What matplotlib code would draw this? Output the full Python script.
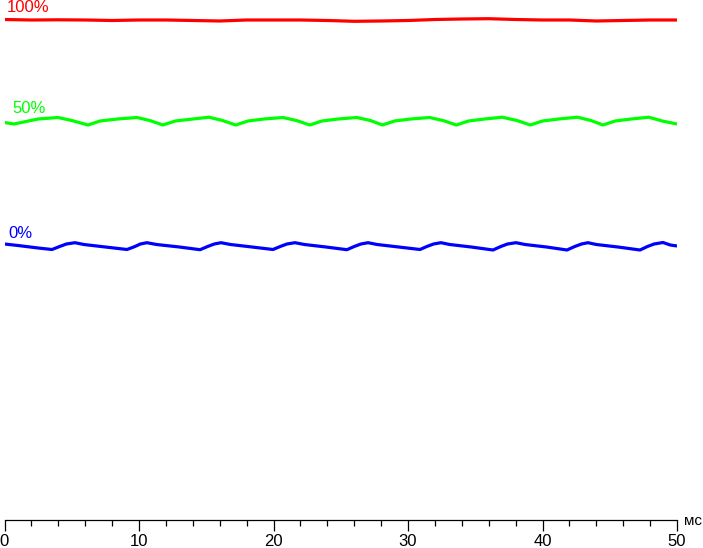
import matplotlib
matplotlib.use("Agg")
import matplotlib.pyplot as plt
from matplotlib.ticker import MultipleLocator

plt.rcParams['font.family'] = ['Liberation Sans', 'DejaVu Sans']

# levels are given as height above the time axis (arbitrary units)
red_t = [0, 2, 4, 6, 8, 10, 12, 14, 16, 18, 20, 22, 24, 26, 28, 30,
         32, 34, 36, 38, 40, 42, 44, 46, 48, 50]
red_v = [500.5, 500, 500.2, 500, 499.5, 500, 500, 499.5, 499, 500, 500, 500, 499.5,
         498.7, 499, 499.5, 500.5, 501, 501.3, 500.5, 500, 500, 499, 499.5, 500, 500]

green_t = [0.0, 0.7, 1.6, 2.5, 3.98, 5.0, 6.21, 7.1, 8.4, 9.85, 10.8, 11.78,
           12.7, 14.0, 15.2, 16.2, 17.2, 18.1, 19.3, 20.7, 21.7, 22.7, 23.6,
           24.8, 26.2, 27.2, 28.1, 29.0, 30.2, 31.6, 32.6, 33.6, 34.5, 35.7,
           37.0, 38.1, 39.1, 40.0, 41.2, 42.6, 43.6, 44.5, 45.4, 46.6, 47.9,
           48.9, 50.0]
green_v = [397.5, 396, 398.5, 401, 402.5, 399.5, 395, 399, 401, 402.5, 399.5, 395,
           399, 401, 402.8, 399.5, 395, 399, 401, 402.5, 399.5, 395, 399,
           401, 402.5, 399.5, 395, 399, 401, 402.5, 399.5, 395, 399, 401,
           402.8, 399.5, 395, 399, 401, 402.8, 399.5, 395, 399, 401, 402.8,
           399, 396]

blue_t = [0.0, 1.0, 2.5, 3.53, 4.1, 4.6, 5.24, 5.9, 7.5, 9.11, 9.7, 10.1, 10.59,
          11.3, 13.0, 14.54, 15.1, 15.6, 16.1, 16.8, 18.4, 19.96, 20.5, 21.0,
          21.6, 22.3, 23.9, 25.46, 26.0, 26.5, 27.03, 27.7, 29.3, 30.89, 31.4,
          31.9, 32.45, 33.1, 34.7, 36.32, 36.9, 37.4, 38.03, 38.7, 40.3, 41.82,
          42.4, 42.9, 43.38, 44.0, 45.6, 47.25, 47.8, 48.3, 48.96, 49.5, 50.0]
blue_v = [276, 274.5, 272, 270.5, 273.5, 276, 277.3, 275.5, 273, 270.5, 273.5, 276, 277.3,
          275.5, 273, 270.3, 273.5, 276, 277.3, 275.5, 273, 270.5, 273.5, 276,
          277.3, 275.5, 273, 270.3, 273.5, 276, 277.3, 275.5, 273, 270.5, 273.5,
          276, 277.3, 275.5, 273, 270, 273.5, 276, 277.3, 275.5, 273, 270,
          273.5, 276, 277.3, 275.5, 273, 270, 273.5, 276, 277.5, 275, 274]

labels = ['100%', '50%', '0%']
label_pos = [(0.19, 508), (0.56, 407), (0.3, 282)]
colors = ['#ff0000', '#00ff00', '#0000ff']

W, H = 703, 548
fig = plt.figure(figsize=(W / 100, H / 100), dpi=100)
ax = fig.add_axes([4.5 / W, 28 / H, (677 - 4.5) / W, 520 / H])

for (t, v), c in zip([(red_t, red_v), (green_t, green_v), (blue_t, blue_v)], colors):
    ax.plot(t, v, color=c, linewidth=2.3, solid_capstyle='butt')

for text, (x, y), c in zip(labels, label_pos, colors):
    ax.text(x, y, text, color=c, fontsize=12, ha='left', va='baseline', clip_on=False)

ax.set_xlim(0, 50)
ax.set_ylim(0, 520)
for side in ['left', 'right', 'top']:
    ax.spines[side].set_visible(False)
ax.spines['bottom'].set_linewidth(0.9)
ax.set_yticks([])
ax.xaxis.set_major_locator(MultipleLocator(10))
ax.xaxis.set_minor_locator(MultipleLocator(2))
ax.tick_params(axis='x', which='major', length=8, width=0.9, pad=2, labelsize=12)
ax.tick_params(axis='x', which='minor', length=4, width=0.9)
ax.patch.set_alpha(0)

fig.text(684 / W, 1 - 521 / H, 'мс', fontsize=11, ha='left', va='center')

fig.savefig('out.png', dpi=100)
